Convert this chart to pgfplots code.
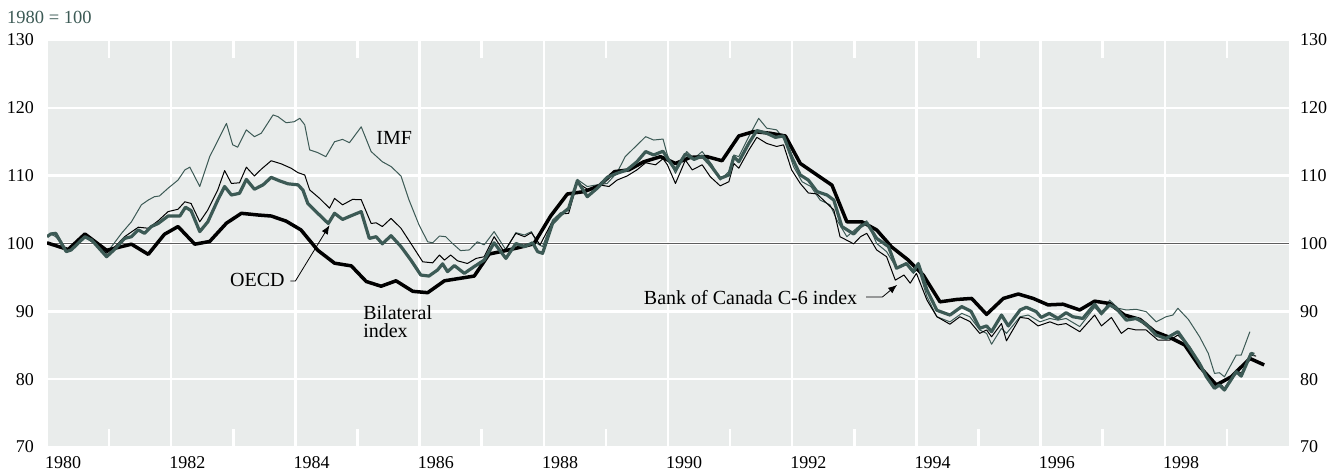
\documentclass[border=0pt]{standalone}
\usepackage{fontspec}
\setmainfont{Liberation Serif}
\usepackage{pgfplots}
\usepackage{pgfplotstable}
\pgfplotsset{compat=1.18}
\usetikzlibrary{arrows.meta}
\definecolor{bgc}{HTML}{E9ECEB}
\definecolor{grn}{HTML}{3C5A55}
\definecolor{zline}{HTML}{5E5E5E}
\newcommand\annfont{\fontsize{20bp}{18bp}\selectfont}
\newcommand\tickfont{\fontsize{18bp}{18bp}\selectfont}

\pgfplotstableread{
year val
1980.00 100.1
1980.34 99.1
1980.61 101.4
1980.96 99.0
1981.36 99.9
1981.63 98.4
1981.89 101.35
1982.11 102.5
1982.38 99.9
1982.62 100.3
1982.89 103.0
1983.13 104.45
1983.40 104.2
1983.61 104.05
1983.85 103.3
1984.09 102.0
1984.36 99.0
1984.63 97.1
1984.90 96.7
1985.14 94.4
1985.38 93.7
1985.62 94.5
1985.89 92.95
1986.13 92.75
1986.40 94.5
1986.64 94.85
1986.88 95.2
1987.12 98.45
1987.36 98.9
1987.60 99.4
1987.84 99.95
1988.11 104.05
1988.38 107.3
1988.65 107.65
1988.89 108.5
1989.14 110.6
1989.37 110.85
1989.61 112.05
1989.88 112.8
1990.12 111.8
1990.36 112.7
1990.63 112.8
1990.87 112.2
1991.14 115.85
1991.38 116.5
1991.65 116.25
1991.89 115.85
1992.13 111.8
1992.40 110.1
1992.64 108.6
1992.88 103.2
1993.12 103.2
1993.36 102.0
1993.60 99.5
1993.87 97.55
1994.11 95.35
1994.38 91.4
1994.65 91.75
1994.89 91.9
1995.13 89.55
1995.40 91.9
1995.64 92.55
1995.88 91.9
1996.12 90.95
1996.36 91.05
1996.63 90.2
1996.87 91.5
1997.11 91.15
1997.35 89.45
1997.60 88.8
1997.84 87.0
1998.08 86.15
1998.32 85.05
1998.56 81.85
1998.83 79.15
1999.07 80.35
1999.37 83.05
1999.60 82.1
}\bilateral

\pgfplotstableread{
year val
1980.00 101.0
1980.06 101.4
1980.14 101.5
1980.31 98.8
1980.39 99.05
1980.61 101.0
1980.72 100.5
1980.96 98.05
1981.09 99.15
1981.25 100.75
1981.36 101.0
1981.47 102.0
1981.57 101.5
1981.68 102.5
1981.79 102.95
1981.95 104.05
1982.14 104.05
1982.23 105.35
1982.32 104.85
1982.46 101.75
1982.59 103.2
1982.75 106.4
1982.86 108.4
1982.97 107.15
1983.10 107.4
1983.21 109.45
1983.34 108.0
1983.48 108.65
1983.61 109.75
1983.74 109.25
1983.88 108.8
1984.04 108.65
1984.12 107.9
1984.20 105.9
1984.36 104.45
1984.53 102.95
1984.63 104.45
1984.76 103.55
1984.90 104.1
1985.06 104.7
1985.19 100.75
1985.30 101.0
1985.40 99.95
1985.54 101.15
1985.70 99.55
1985.86 97.55
1986.02 95.35
1986.15 95.2
1986.29 96.1
1986.37 97.0
1986.45 95.85
1986.56 96.75
1986.72 95.6
1986.88 96.6
1987.04 97.55
1987.20 100.1
1987.39 97.8
1987.55 100.0
1987.69 99.55
1987.82 100.1
1987.90 98.8
1987.98 98.55
1988.14 102.95
1988.27 104.2
1988.40 105.2
1988.54 109.25
1988.70 106.9
1988.86 108.15
1989.02 109.75
1989.18 110.35
1989.34 110.85
1989.50 112.05
1989.64 113.55
1989.77 113.05
1989.92 113.6
1989.99 112.56
1990.12 110.85
1990.28 113.2
1990.42 112.4
1990.55 112.9
1990.68 111.6
1990.84 109.6
1990.98 110.1
1991.06 112.8
1991.14 112.05
1991.30 114.75
1991.43 116.65
1991.59 116.25
1991.73 115.65
1991.86 115.85
1991.99 112.8
1992.13 110.1
1992.26 109.35
1992.40 107.65
1992.56 107.15
1992.67 106.4
1992.80 102.5
1992.99 101.4
1993.10 102.5
1993.20 103.05
1993.36 100.75
1993.55 99.55
1993.68 96.35
1993.84 97.05
1993.95 95.85
1994.03 97.05
1994.17 93.15
1994.33 90.15
1994.54 89.45
1994.73 90.7
1994.88 90.0
1995.02 87.5
1995.13 87.85
1995.21 87.0
1995.37 89.45
1995.48 87.85
1995.67 90.2
1995.77 90.6
1995.93 89.95
1996.01 89.1
1996.14 89.7
1996.28 88.95
1996.41 89.8
1996.52 89.2
1996.68 88.95
1996.87 91.05
1996.98 89.7
1997.11 90.95
1997.22 90.45
1997.38 88.7
1997.54 88.95
1997.70 88.1
1997.86 86.5
1998.02 86.0
1998.21 87.0
1998.40 84.55
1998.56 82.3
1998.67 80.35
1998.80 78.65
1998.88 79.15
1998.96 78.4
1999.15 81.1
1999.23 80.45
1999.39 83.8
1999.44 83.65
}\oecd

\pgfplotstableread{
year val
1980.00 101.0
1980.06 101.5
1980.14 101.3
1980.31 99.05
1980.39 99.2
1980.61 101.1
1980.72 100.3
1980.96 98.55
1981.09 99.5
1981.25 101.0
1981.47 102.4
1981.63 102.25
1981.79 103.35
1981.95 104.7
1982.11 105.05
1982.22 106.15
1982.32 105.9
1982.46 103.2
1982.59 104.95
1982.75 107.9
1982.86 110.75
1982.97 108.85
1983.10 108.95
1983.21 111.25
1983.34 109.95
1983.45 110.95
1983.61 112.2
1983.77 111.75
1983.93 111.1
1984.04 110.45
1984.15 110.1
1984.23 107.9
1984.39 106.65
1984.55 105.2
1984.63 106.65
1984.76 105.7
1984.92 106.5
1985.06 106.45
1985.22 102.95
1985.30 103.05
1985.40 102.5
1985.54 103.7
1985.70 102.25
1985.86 100.0
1986.05 97.3
1986.21 97.15
1986.32 98.3
1986.40 97.55
1986.50 98.3
1986.61 97.45
1986.77 97.05
1986.91 97.8
1987.04 98.05
1987.20 101.0
1987.36 98.8
1987.55 101.5
1987.69 101.0
1987.80 101.6
1987.94 99.8
1988.12 102.95
1988.28 104.35
1988.40 104.45
1988.54 108.95
1988.72 107.9
1988.89 108.65
1989.05 108.4
1989.18 109.35
1989.34 109.95
1989.50 110.85
1989.64 111.9
1989.80 111.6
1989.92 112.5
1989.99 111.6
1990.12 108.85
1990.28 112.3
1990.39 110.85
1990.55 111.6
1990.68 109.85
1990.84 108.5
1990.98 109.1
1991.06 111.8
1991.14 111.1
1991.30 113.75
1991.43 115.65
1991.59 114.75
1991.75 114.3
1991.86 114.55
1991.99 110.85
1992.13 108.85
1992.26 107.45
1992.40 107.3
1992.56 105.9
1992.67 104.95
1992.77 101.0
1992.99 99.95
1993.10 101.0
1993.20 101.5
1993.36 99.05
1993.52 98.05
1993.66 94.6
1993.80 95.35
1993.90 94.15
1994.00 95.6
1994.17 91.65
1994.33 89.2
1994.54 88.1
1994.70 89.2
1994.86 88.5
1995.02 86.75
1995.13 87.25
1995.21 86.25
1995.37 88.2
1995.45 85.65
1995.67 89.1
1995.80 88.95
1995.96 87.85
1996.15 88.45
1996.28 88.0
1996.41 88.2
1996.63 87.0
1996.87 89.45
1996.98 87.85
1997.14 89.1
1997.30 86.75
1997.41 87.5
1997.54 87.25
1997.70 87.25
1997.89 85.75
1998.08 85.75
1998.21 86.5
1998.40 84.8
1998.56 82.3
1998.67 80.6
1998.80 78.9
1998.91 79.15
1998.96 78.65
1999.15 81.35
1999.23 80.85
1999.39 83.55
1999.47 83.4
}\csix

\pgfplotstableread{
year val
1980.00 101.0
1980.06 101.4
1980.14 101.0
1980.31 99.2
1980.39 99.35
1980.61 100.9
1980.77 99.95
1980.96 98.65
1981.04 99.55
1981.20 101.5
1981.36 103.2
1981.52 105.7
1981.63 106.4
1981.73 106.9
1981.81 107.0
1981.95 108.15
1982.11 109.35
1982.22 110.85
1982.30 111.25
1982.46 108.4
1982.62 112.8
1982.81 116.25
1982.89 117.7
1982.99 114.55
1983.07 114.2
1983.21 116.75
1983.34 115.75
1983.45 116.25
1983.64 118.95
1983.72 118.7
1983.85 117.8
1983.98 117.95
1984.07 118.45
1984.15 117.5
1984.23 113.8
1984.36 113.4
1984.49 112.8
1984.63 115.0
1984.76 115.35
1984.87 114.85
1985.06 117.2
1985.22 113.55
1985.40 112.05
1985.54 111.35
1985.70 109.95
1985.83 106.4
1985.99 102.75
1986.13 100.25
1986.21 100.1
1986.32 101.1
1986.42 101.0
1986.53 100.0
1986.66 98.95
1986.80 99.05
1986.93 100.25
1987.04 99.8
1987.20 101.75
1987.39 99.05
1987.55 101.6
1987.69 101.25
1987.80 101.75
1987.90 99.95
1987.98 99.55
1988.14 103.45
1988.27 104.55
1988.40 104.85
1988.54 109.45
1988.70 108.4
1988.86 108.65
1989.02 108.85
1989.18 110.45
1989.31 112.8
1989.45 114.05
1989.64 115.75
1989.77 115.25
1989.92 115.4
1989.99 113.05
1990.12 110.35
1990.30 113.55
1990.42 112.55
1990.55 113.55
1990.71 111.6
1990.84 109.35
1990.98 110.6
1991.06 113.05
1991.14 112.8
1991.30 115.75
1991.46 118.45
1991.59 117.0
1991.75 116.75
1991.88 115.25
1992.02 111.35
1992.16 109.1
1992.30 108.4
1992.45 106.4
1992.61 105.7
1992.72 103.45
1992.88 101.0
1993.10 102.75
1993.20 103.35
1993.36 100.0
1993.52 98.8
1993.68 96.35
1993.84 96.85
1993.95 95.6
1994.03 96.35
1994.17 92.15
1994.33 89.2
1994.54 88.45
1994.73 89.7
1994.86 89.2
1995.02 87.25
1995.13 86.75
1995.21 85.15
1995.37 87.5
1995.45 86.75
1995.67 89.2
1995.80 89.45
1995.99 88.45
1996.15 88.95
1996.28 88.7
1996.41 88.95
1996.63 87.75
1996.87 90.6
1996.98 89.45
1997.11 91.65
1997.25 90.45
1997.38 90.2
1997.54 90.3
1997.70 89.95
1997.86 88.45
1998.02 89.2
1998.13 89.45
1998.21 90.45
1998.38 88.8
1998.56 86.25
1998.70 83.8
1998.80 80.85
1998.88 80.95
1998.96 80.35
1999.15 83.55
1999.23 83.55
1999.37 87.0
}\imf

\begin{document}
\begin{tikzpicture}[x=1bp,y=1bp]
\useasboundingbox (0,0) rectangle (1331,472);
\node[anchor=west, inner sep=0pt, text=grn, font=\fontsize{18.5bp}{18bp}\selectfont] at (7,455) {1980 = 100};
\begin{axis}[
  at={(47bp,25bp)}, anchor=south west,
  width=1242bp, height=407bp, scale only axis,
  xmin=1980, xmax=2000, ymin=70, ymax=130,
  axis background/.style={fill=bgc},
  axis line style={draw=none},
  xtick={1980,1982,...,1998},
  minor xtick={1981,1983,...,1999},
  ytick={70,80,...,130},
  xmajorgrids, ymajorgrids,
  grid style={white, line width=2.5bp},
  major tick length=0pt,
  minor tick length=18bp,
  tick align=inside,
  tick pos=both,
  every minor tick/.append style={draw=white, line width=2.5bp},
  xticklabel style={anchor=north west, inner sep=0pt, yshift=-9bp, xshift=-2bp, font=\tickfont},
  yticklabel style={anchor=east, inner sep=0pt, xshift=-13bp, font=\tickfont},
  /pgf/number format/.cd, 1000 sep={}, assume math mode=true,
]
\draw[zline, line width=1.4bp] (axis cs:1980,100) -- (axis cs:2000,100);
\addplot[grn, line width=1bp, line join=round] table[x=year,y=val] {\imf};
\addplot[black, line width=1bp, line join=round] table[x=year,y=val] {\csix};
\addplot[black, line width=3.5bp, line join=round] table[x=year,y=val] {\bilateral};
\addplot[grn, line width=3.2bp, line join=round] table[x=year,y=val] {\oecd};
\node[font=\annfont] at (axis cs:1985.59,115.56) {IMF};
\node[font=\annfont, anchor=east, inner sep=0pt] at (axis cs:1983.83,94.6) {OECD};
\draw[line width=0.8bp, -{Latex[length=9bp,width=7bp]}] (axis cs:1983.92,94.47) -- (axis cs:1984.0,94.47) -- (axis cs:1984.55,102.7);
\node[font=\annfont, anchor=north west, align=left, inner sep=0pt] at (axis cs:1985.09,90.9) {Bilateral\\index};
\node[font=\annfont, anchor=east, inner sep=0pt] at (axis cs:1993.05,92.1) {Bank of Canada C-6 index};
\draw[line width=0.8bp, -{Latex[length=9bp,width=7bp]}] (axis cs:1993.19,92.1) -- (axis cs:1993.45,92.1) -- (axis cs:1993.69,93.9);
\end{axis}
\begin{axis}[
  at={(47bp,25bp)}, anchor=south west,
  width=1242bp, height=407bp, scale only axis,
  xmin=1980, xmax=2000, ymin=70, ymax=130,
  axis line style={draw=none},
  xtick=\empty, ytick={70,80,...,130},
  major tick length=0pt,
  yticklabel pos=right,
  yticklabel style={anchor=west, inner sep=0pt, xshift=11bp, font=\tickfont},
  /pgf/number format/.cd, assume math mode=true,
]
\end{axis}
\end{tikzpicture}
\end{document}
